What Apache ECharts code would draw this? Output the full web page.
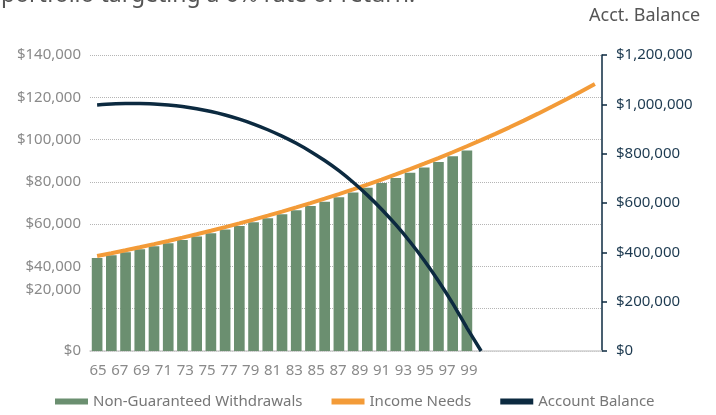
<!DOCTYPE html>
<html>
<head>
<meta charset="utf-8">
<script src="https://cdn.jsdelivr.net/npm/echarts@6/dist/echarts.min.js"></script>
<style>
  html, body { margin: 0; padding: 0; background: #fff; }
  #chart { width: 716px; height: 415px; }
</style>
</head>
<body>
<div id="chart"></div>
<script>
// ages on the plotting axis (one slot per year)
var ages = [];
for (var a = 65; a <= 100; a++) ages.push(String(a));

// tick labels printed under the chart
var ageLabels = [65, 67, 69, 71, 73, 75, 77, 79, 81, 83, 85, 87, 89, 91, 93, 95, 97, 99];

var withdrawals = [44000, 45320, 46680, 48080, 49520, 51010, 52540, 54110, 55740,
  57410, 59130, 60910, 62730, 64620, 66560, 68550, 70610, 72730, 74910, 77160,
  79470, 81860, 84310, 86840, 89450, 92130, 94890];

var incomeNeeds = [44900, 46250, 47630, 49060, 50530, 52050, 53610, 55220, 56880,
  58580, 60340, 62150, 64020, 65940, 67910, 69950, 72050, 74210, 76430, 78730,
  81090, 83520, 86030, 88610, 91270, 94010, 96830, 99730, 102720, 105800, 108980,
  112250, 115610, 119080, 122650, 126330];

var accountBalance = [997000, 1001000, 1003000, 1003000, 1001000, 997000, 991000,
  982000, 971000, 957000, 940000, 920000, 897000, 871000, 842000, 809000, 772000,
  731000, 684000, 632000, 575000, 512000, 443000, 367000, 284000, 193000, 94000, 0];

var leftTicks = [0, 20000, 40000, 60000, 80000, 100000, 120000, 140000];
var rightTicks = [0, 200000, 400000, 600000, 800000, 1000000, 1200000];

var font = "'Noto Sans', sans-serif";
var green = "#6b8f70";
var orange = "#f39b38";
var navy = "#0c2a40";

function money(v) {
  return "$" + v.toLocaleString("en-US");
}

var chart = echarts.init(document.getElementById("chart"));
var option = {
  animation: false,
  textStyle: { fontFamily: font },
  graphic: [
    {
      type: "text",
      left: 1,
      top: -16,
      style: { text: "portfolio targeting a 6% rate of return.", fontSize: 23, fill: "#555", fontFamily: font },
    },
    {
      type: "text",
      left: 589,
      top: 7,
      style: { text: "Acct. Balance", fontSize: 18, fill: "#555", fontFamily: font },
    },
  ],
  legend: {
    left: 50,
    bottom: 1,
    itemWidth: 33,
    itemHeight: 6,
    itemGap: 29,
    textStyle: { color: "#777", fontSize: 15, fontFamily: font },
    data: [
      { name: "Non-Guaranteed Withdrawals", icon: "rect" },
      { name: "Income Needs", icon: "rect" },
      { name: "Account Balance", icon: "rect" },
    ],
  },
  grid: {
    left: 90,
    right: 114,
    top: 55,
    bottom: 64,
    outerBoundsMode: "none",
  },
  xAxis: [
    {
      type: "category",
      data: ages,
      boundaryGap: true,
      axisLine: { lineStyle: { color: "#cfcfcf", width: 1.5 } },
      axisTick: { show: false },
      axisLabel: { show: false },
    },
    {
      // label-only axis, spaced as in the original
      type: "value",
      position: "bottom",
      min: 64.27,
      max: 111.2,
      axisLine: { show: false },
      axisTick: { show: false },
      splitLine: { show: false },
      axisLabel: {
        customValues: ageLabels,
        margin: 12,
        color: "#8a8a8a",
        fontSize: 15,
        fontFamily: font,
      },
    },
  ],
  yAxis: [
    {
      type: "value",
      min: 0,
      max: 140000,
      interval: 20000,
      axisLine: { show: false },
      axisTick: { show: false },
      splitLine: { lineStyle: { type: "dotted", color: "#b5b5b5", width: 1 } },
      axisLabel: {
        margin: 9,
        color: "#8a8a8a",
        fontSize: 15,
        fontFamily: font,
        formatter: function (v) {
          if (v === leftTicks[1]) return "{up|" + money(v) + "}";
          return money(v);
        },
        rich: {
          up: { padding: [0, 0, 38, 0], color: "#8a8a8a", fontSize: 15, fontFamily: font },
        },
      },
    },
    {
      type: "value",
      position: "right",
      min: 0,
      max: 1200000,
      interval: 200000,
      axisLine: { show: true, lineStyle: { color: navy, width: 1.5 } },
      axisTick: { show: true, length: 5, lineStyle: { color: navy, width: 1.5 } },
      splitLine: { show: false },
      axisLabel: {
        margin: 14,
        color: "#1d3a50",
        fontSize: 15,
        fontFamily: font,
        formatter: money,
      },
    },
  ],
  series: [
    {
      name: "Non-Guaranteed Withdrawals",
      type: "bar",
      xAxisIndex: 0,
      yAxisIndex: 0,
      data: withdrawals,
      barWidth: "75%",
      itemStyle: { color: green },
      z: 2,
    },
    {
      name: "Income Needs",
      type: "line",
      xAxisIndex: 0,
      yAxisIndex: 0,
      data: incomeNeeds,
      showSymbol: false,
      symbol: "none",
      lineStyle: { color: orange, width: 4 },
      itemStyle: { color: orange },
      z: 3,
    },
    {
      name: "Account Balance",
      type: "line",
      xAxisIndex: 0,
      yAxisIndex: 1,
      data: accountBalance,
      smooth: 0.2,
      showSymbol: false,
      symbol: "none",
      lineStyle: { color: navy, width: 3.5 },
      itemStyle: { color: navy },
      z: 4,
    },
  ],
};
chart.setOption(option);
window.addEventListener("resize", function () {
  chart.resize();
});
</script>
</body>
</html>
